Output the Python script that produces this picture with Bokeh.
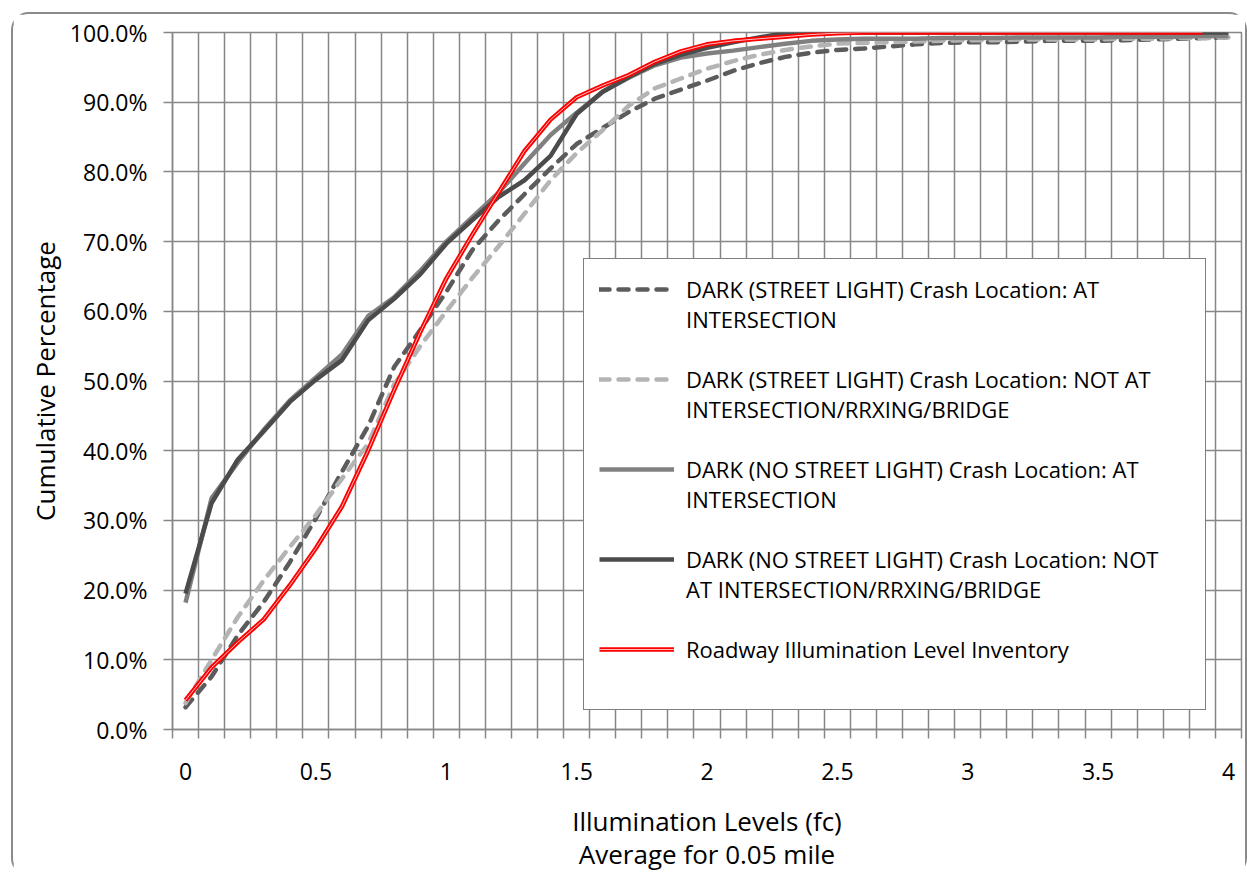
from bokeh.plotting import figure
from bokeh.models import Range1d, FixedTicker, Legend, LegendItem, PrintfTickFormatter
from bokeh.embed import file_html
from bokeh.resources import INLINE

# ---- data (cumulative %) ----
illum = [0.0, 0.1, 0.2, 0.3, 0.4, 0.5, 0.6, 0.7, 0.8, 0.9,
         1.0, 1.1, 1.2, 1.3, 1.4, 1.5, 1.6, 1.7, 1.8, 1.9,
         2.0, 2.1, 2.2, 2.3, 2.4, 2.5, 2.6, 2.7, 2.8, 2.9,
         3.0, 3.1, 3.2, 3.3, 3.4, 3.5, 3.6, 3.7, 3.8, 3.9, 4.0]

sl_at_int = [3.2, 7.6, 13.5, 18.3, 24.0, 30.3, 37.0, 43.5, 52.0, 57.3,
             62.8, 68.8, 73.0, 76.8, 80.5, 84.0, 86.3, 88.6, 90.5, 91.8,
             93.1, 94.5, 95.6, 96.5, 97.1, 97.5, 97.7, 98.0, 98.3, 98.5,
             98.6, 98.6, 98.7, 98.8, 98.8, 98.8, 98.9, 99.0, 99.1, 99.2, 99.3]

sl_not_int = [3.8, 10.0, 16.1, 21.4, 26.2, 30.8, 36.0, 41.0, 49.5, 55.0,
              60.0, 64.8, 69.3, 74.0, 78.8, 82.7, 86.0, 89.5, 92.0, 93.4,
              94.8, 95.9, 96.8, 97.5, 98.0, 98.4, 98.5, 98.6, 98.7, 98.8,
              98.9, 98.9, 99.0, 99.0, 99.0, 99.0, 99.1, 99.1, 99.2, 99.2, 99.3]

nsl_at_int = [18.2, 33.2, 38.3, 43.0, 47.2, 50.5, 53.8, 59.3, 62.0, 65.8,
              70.0, 73.5, 77.0, 81.2, 85.3, 88.5, 91.5, 93.5, 95.3, 96.4,
              97.0, 97.4, 97.9, 98.4, 98.8, 99.0, 99.1, 99.1, 99.1, 99.2,
              99.2, 99.2, 99.3, 99.3, 99.3, 99.3, 99.4, 99.4, 99.4, 99.5, 99.5]

nsl_not_int = [19.5, 32.5, 38.7, 42.8, 47.0, 50.2, 53.0, 58.7, 61.8, 65.3,
               69.7, 73.1, 76.4, 78.8, 82.3, 88.3, 91.5, 93.6, 95.5, 96.8,
               97.8, 98.6, 99.3, 99.9, 100.0, 100.0, 100.0, 100.0, 100.0, 100.0,
               100.0, 100.0, 100.0, 100.0, 100.0, 100.0, 100.0, 100.0, 100.0, 100.0, 100.0]

inventory = [4.2, 8.9, 12.5, 15.8, 20.7, 26.0, 32.0, 40.0, 48.7, 57.0,
             64.7, 71.0, 77.0, 83.0, 87.5, 90.7, 92.4, 93.9, 95.8, 97.3,
             98.3, 98.8, 99.1, 99.4, 99.7, 99.9, 100.0, 100.0, 100.0, 100.0,
             100.0, 100.0, 100.0, 100.0, 100.0, 100.0, 100.0, 100.0, 100.0, 100.0,
             float("nan")]

x_major = [0.0, 0.5, 1.0, 1.5, 2.0, 2.5, 3.0, 3.5, 4.0]
x_labels = ["0", "0.5", "1", "1.5", "2", "2.5", "3", "3.5", "4"]
y_major = [0, 10, 20, 30, 40, 50, 60, 70, 80, 90, 100]

# legend labels, one list of lines per series
labels = [
    ["DARK (STREET LIGHT) Crash Location: AT", "INTERSECTION"],
    ["DARK (STREET LIGHT) Crash Location: NOT AT", "INTERSECTION/RRXING/BRIDGE"],
    ["DARK (NO STREET LIGHT) Crash Location: AT", "INTERSECTION"],
    ["DARK (NO STREET LIGHT) Crash Location: NOT", "AT INTERSECTION/RRXING/BRIDGE"],
    ["Roadway Illumination Level Inventory"],
]

FONT = "Open Sans"
GRID = "#878787"

p = figure(frame_width=1069, frame_height=697,
           x_range=Range1d(-0.05, 4.05), y_range=Range1d(0, 100),
           output_backend="svg", toolbar_location=None,
           min_border_left=159, min_border_top=18,
           min_border_right=4, min_border_bottom=139,
           background_fill_color="white", border_fill_color="white")
p.outline_line_color = GRID
p.outline_line_width = 1.5
p.styles = {"margin-left": "11px", "margin-top": "12px",
            "border": "2px solid #8a8a8a", "border-radius": "18px"}

# x axis: category boundaries every 0.1, labels every 0.5
bounds = [round(-0.05 + 0.1 * i, 2) for i in range(42)]
xt = FixedTicker(ticks=x_major, minor_ticks=bounds)
p.xaxis.ticker = xt
p.xaxis.major_label_overrides = {v: s for v, s in zip(x_major, x_labels)}
p.xaxis.major_tick_out = 0
p.xaxis.major_tick_in = 0
p.xaxis.minor_tick_out = 9
p.xaxis.minor_tick_in = 0
p.xaxis.minor_tick_line_color = GRID
p.xaxis.minor_tick_line_width = 1.5
p.xaxis.major_label_standoff = 24
p.xaxis.axis_label = "Illumination Levels (fc)\nAverage for 0.05 mile"
p.xaxis.axis_label_standoff = 20

p.yaxis.ticker = FixedTicker(ticks=y_major)
p.yaxis.formatter = PrintfTickFormatter(format="%.1f%%")
p.yaxis.major_tick_out = 9
p.yaxis.major_tick_in = 0
p.yaxis.minor_tick_line_color = None
p.yaxis.major_label_standoff = 16
p.yaxis.axis_label = "Cumulative Percentage"
p.yaxis.axis_label_standoff = 4

for ax in (p.xaxis, p.yaxis):
    ax.axis_line_color = GRID
    ax.axis_line_width = 1.5
    ax.major_tick_line_color = GRID
    ax.major_tick_line_width = 1.5
    ax.major_label_text_font = FONT
    ax.major_label_text_font_size = "23px"
    ax.major_label_text_color = "black"
    ax.axis_label_text_font = FONT
    ax.axis_label_text_font_size = "26px"
    ax.axis_label_text_font_style = "normal"
    ax.axis_label_text_color = "black"
    ax.axis_label_text_line_height = 0.93

p.xgrid.ticker = xt
p.xgrid.grid_line_color = None
p.xgrid.minor_grid_line_color = GRID
p.xgrid.minor_grid_line_width = 1.5
p.ygrid.grid_line_color = GRID
p.ygrid.grid_line_width = 1.5

LW = 4.5
r1 = p.line(illum, sl_at_int, line_color="#5c5c5c", line_width=LW, line_dash="10 9", line_cap="round")
r2 = p.line(illum, sl_not_int, line_color="#b4b4b4", line_width=LW, line_dash="10 9", line_cap="round")
r3 = p.line(illum, nsl_at_int, line_color="#808080", line_width=LW, line_join="round")
r4 = p.line(illum, nsl_not_int, line_color="#4b4b4b", line_width=LW, line_join="round")
r5 = p.line(illum, inventory, line_color="#ff0000", line_width=LW, line_join="round")
r5b = p.line(illum, inventory, line_color="white", line_width=1, line_alpha=0.75)

series_renderers = [[r1], [r2], [r3], [r4], [r5, r5b]]
items = []
for k, (lines, rends) in enumerate(zip(labels, series_renderers)):
    items.append(LegendItem(label=lines[0], renderers=rends))
    for extra in lines[1:]:
        items.append(LegendItem(label=extra, renderers=[]))
    if k < len(labels) - 1 and len(lines) > 1:
        items.append(LegendItem(label=" ", renderers=[]))
items.append(LegendItem(label=" ", renderers=[]))

legend = Legend(items=items, location=(411, 19))
legend.border_line_color = "black"
legend.border_line_width = 1.2
legend.background_fill_color = "white"
legend.background_fill_alpha = 1
legend.padding = 15
legend.spacing = 0
legend.glyph_width = 75
legend.glyph_height = 30
legend.label_height = 30
legend.label_standoff = 12
legend.label_width = 504
legend.label_text_font = FONT
legend.label_text_font_size = "22px"
legend.label_text_color = "black"
p.add_layout(legend)

open("out.html", "w").write(file_html(p, INLINE))
